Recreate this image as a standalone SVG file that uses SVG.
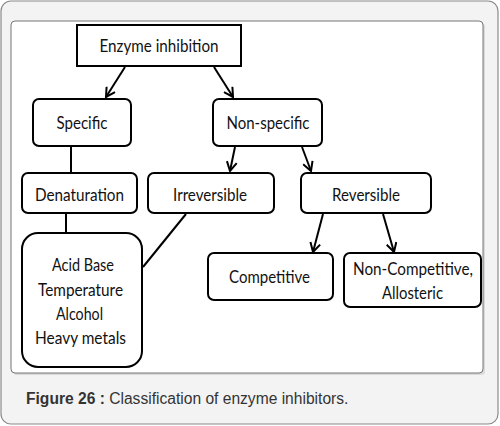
<svg xmlns="http://www.w3.org/2000/svg" width="500" height="426" viewBox="0 0 500 426">
<style>
.box{fill:#fff;stroke:#000;stroke-width:2}
.t{font-family:Lato,"Noto Sans",sans-serif;font-size:17px;fill:#111;text-anchor:middle}
.c{stroke:#000;stroke-width:2;fill:none}
.cap{font-family:"Liberation Sans",Arial,sans-serif;font-size:15.6px;fill:#333}
</style>
<defs>
<marker id="ah" markerWidth="12" markerHeight="12" viewBox="0 0 12 12" refX="10" refY="6" orient="auto" markerUnits="userSpaceOnUse">
<path d="M1,1 L10,6 L1,11" fill="none" stroke="#000" stroke-width="2"/>
</marker>
</defs>
<rect x="1" y="1" width="497" height="423" rx="10" fill="#f3f3f3" stroke="#8a8a8a" stroke-width="1.2"/>
<rect x="13" y="23" width="472" height="352" rx="4" fill="#c8c8c8" opacity="0.6"/>
<rect x="11" y="21" width="472" height="352" rx="4" fill="#fff" stroke="#777" stroke-width="1"/>
<g id="connectors">
<line class="c" x1="125" y1="67" x2="106" y2="97" marker-end="url(#ah)"/>
<line class="c" x1="214" y1="67" x2="233" y2="97" marker-end="url(#ah)"/>
<line class="c" x1="71" y1="147" x2="71" y2="173"/>
<line class="c" x1="235" y1="147" x2="230" y2="171" marker-end="url(#ah)"/>
<line class="c" x1="302" y1="147" x2="311" y2="171" marker-end="url(#ah)"/>
<line class="c" x1="66" y1="214" x2="66" y2="233"/>
<line class="c" x1="186" y1="214" x2="143" y2="267"/>
<line class="c" x1="323" y1="214" x2="313" y2="252" marker-end="url(#ah)"/>
<line class="c" x1="383" y1="214" x2="394" y2="252" marker-end="url(#ah)"/>
</g>
<g id="enzyme-inhibition">
<rect class="box" x="77" y="25" width="164" height="41"/>
<text class="t" x="159" y="52" textLength="119" lengthAdjust="spacingAndGlyphs">Enzyme inhibition</text>
</g>
<g id="specific">
<rect class="box" x="33" y="99" width="98" height="47" rx="6"/>
<text class="t" x="82" y="129" textLength="51" lengthAdjust="spacingAndGlyphs">Specific</text>
</g>
<g id="non-specific">
<rect class="box" x="213" y="99" width="109" height="47" rx="6"/>
<text class="t" x="268" y="129" textLength="83" lengthAdjust="spacingAndGlyphs">Non-specific</text>
</g>
<g id="denaturation">
<rect class="box" x="22" y="173" width="115" height="40" rx="6"/>
<text class="t" x="79.5" y="201" textLength="89" lengthAdjust="spacingAndGlyphs">Denaturation</text>
</g>
<g id="irreversible">
<rect class="box" x="148" y="173" width="126" height="40" rx="6"/>
<text class="t" x="210" y="201" textLength="74" lengthAdjust="spacingAndGlyphs">Irreversible</text>
</g>
<g id="reversible">
<rect class="box" x="301" y="173" width="130" height="40" rx="6"/>
<text class="t" x="366" y="201" textLength="68" lengthAdjust="spacingAndGlyphs">Reversible</text>
</g>
<g id="agents">
<rect class="box" x="22" y="233" width="120" height="134" rx="16"/>
<text class="t" x="83" y="271" textLength="62" lengthAdjust="spacingAndGlyphs">Acid Base</text>
<text class="t" x="80.5" y="296" textLength="85" lengthAdjust="spacingAndGlyphs">Temperature</text>
<text class="t" x="79.5" y="320" textLength="47" lengthAdjust="spacingAndGlyphs">Alcohol</text>
<text class="t" x="80.5" y="344" textLength="91" lengthAdjust="spacingAndGlyphs">Heavy metals</text>
</g>
<g id="competitive">
<rect class="box" x="208" y="253" width="125" height="47" rx="6"/>
<text class="t" x="269.5" y="283" textLength="81" lengthAdjust="spacingAndGlyphs">Competitive</text>
</g>
<g id="non-competitive">
<rect class="box" x="344" y="253" width="137" height="54" rx="6"/>
<text class="t" x="413" y="275" textLength="120" lengthAdjust="spacingAndGlyphs">Non-Competitive,</text>
<text class="t" x="412.5" y="299" textLength="61" lengthAdjust="spacingAndGlyphs">Allosteric</text>
</g>
<text class="cap" x="26" y="404"><tspan font-weight="bold">Figure 26 :</tspan> Classification of enzyme inhibitors.</text>
</svg>
